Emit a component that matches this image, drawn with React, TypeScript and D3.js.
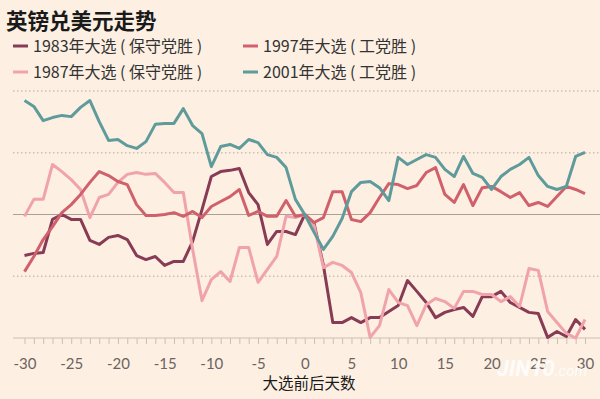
import React, { useEffect, useRef } from 'react';
import * as d3 from 'd3';

// 大选前后天数（-30 ~ 30）
const days = d3.range(-30, 31);
const xLabelTicks = [-30, -25, -20, -15, -10, -5, 0, 5, 10, 15, 20, 25, 30];
const gridValues = [4, 2, -2];

// 以选举日为 0 的英镑兑美元变化（%）
const gbp1983 = [
  -1.33, -1.26, -1.23, -0.16, 0, -0.16, -0.16, -0.84, -0.97, -0.74,
  -0.68, -0.81, -1.33, -1.46, -1.36, -1.65, -1.52, -1.52, -0.87, 0.16,
  1.23, 1.39, 1.43, 1.49, 0.71, 0.32, -0.97, -0.55, -0.55, -0.65,
  0, -0.29, -1.65, -3.5, -3.5, -3.34, -3.5, -3.34, -3.34, -3.14,
  -2.95, -2.14, -2.49, -2.85, -3.34, -3.17, -3.08, -3.01, -3.3, -2.66,
  -2.66, -2.49, -2.85, -3.01, -3.17, -3.21, -3.98, -3.79, -3.95, -3.4,
  -3.72,
];
const gbp1987 = [
  -0.06, 0.49, 0.49, 1.62, 1.39, 1.13, 0.81, -0.1, 0.55, 0.65,
  1.04, 1.3, 1.36, 1.3, 1.33, 1.04, 0.71, 0.71, -1.13, -2.79,
  -2.11, -1.85, -2.17, -1.07, -1.07, -2.2, -1.78, -1.36, -0.06, -0.1,
  0, -0.36, -1.72, -1.55, -1.65, -1.88, -2.53, -3.98, -3.6, -2.43,
  -2.85, -2.95, -3.6, -2.92, -2.72, -2.82, -3.04, -2.49, -2.49, -2.59,
  -2.59, -2.82, -2.66, -2.98, -1.75, -1.81, -3.14, -3.5, -3.85, -4.0,
  -3.4,
];
const gbp1997 = [
  -1.85, -1.36, -0.81, -0.39, 0.06, 0.32, 0.65, 1.04, 1.39, 1.26,
  1.07, 0.97, 0.32, -0.03, -0.03, 0, 0.06, -0.06, 0.1, -0.1,
  0.26, 0.42, 0.58, 0.81, -0.03, 0.1, -0.06, -0.06, 0.45, -0.06,
  0, -0.26, -0.1, 0.74, 0.74, -0.16, -0.23, 0.06, 0.55, 1.0,
  0.97, 0.84, 0.94, 1.36, 1.52, 0.65, 0.39, 0.97, 0.29, 0.87,
  0.91, 0.74, 0.55, 0.71, 0.29, 0.39, 0.26, 0.58, 0.91, 0.81,
  0.68,
];
const gbp2001 = [
  3.69, 3.5, 3.04, 3.14, 3.21, 3.17, 3.47, 3.69, 3.01, 2.4,
  2.43, 2.23, 2.14, 2.36, 2.92, 2.95, 2.95, 3.43, 2.88, 2.62,
  1.55, 2.2, 2.27, 2.14, 2.43, 2.33, 1.94, 1.85, 1.52, 0.49,
  0, -0.58, -1.13, -0.71, -0.13, 0.74, 1.04, 1.07, 0.87, 0.45,
  1.85, 1.62, 1.78, 1.94, 1.85, 1.46, 1.23, 1.88, 1.33, 1.2,
  0.81, 1.23, 1.46, 1.62, 1.85, 1.26, 0.91, 0.81, 0.91, 1.88,
  2.01,
];

const seriesLabels = [
  '1983年大选 ( 保守党胜 )',
  '1987年大选 ( 保守党胜 )',
  '1997年大选 ( 工党胜 )',
  '2001年大选 ( 工党胜 )',
];
const seriesValues = [gbp1983, gbp1987, gbp1997, gbp2001];
const seriesColors = ['#873b55', '#f0a3ab', '#d0606b', '#5f9b9b'];

const W = 600;
const H = 399;
const CJK = '"Noto Sans CJK SC", "Noto Sans", sans-serif';

const App = () => {
  const svgRef = useRef<SVGSVGElement>(null);

  useEffect(() => {
    const svg = d3.select(svgRef.current);
    svg.selectAll('*').remove();

    const x = d3.scaleLinear().domain([-30, 30]).range([24.5, 585]);
    const y = d3.scaleLinear().domain([-4, 4]).range([338, 91]);

    svg.append('rect').attr('width', W).attr('height', H).attr('fill', '#fdf0e3');

    // 标题
    svg.append('text')
      .attr('x', 6).attr('y', 28.5)
      .attr('font-family', CJK).attr('font-size', 21.5).attr('font-weight', 700)
      .attr('fill', '#1a1a1a')
      .text('英镑兑美元走势');

    // 图例
    const legendPos = [
      { x: 13, y: 46 }, { x: 13, y: 72 }, { x: 243, y: 46 }, { x: 243, y: 72 },
    ];
    const legend = svg.append('g');
    seriesLabels.forEach((label, i) => {
      const p = legendPos[i];
      legend.append('line')
        .attr('x1', p.x).attr('x2', p.x + 15).attr('y1', p.y).attr('y2', p.y)
        .attr('stroke', seriesColors[i]).attr('stroke-width', 3);
      legend.append('text')
        .attr('x', p.x + 20).attr('y', p.y).attr('dy', '0.35em')
        .attr('font-family', CJK).attr('font-size', 16).attr('fill', '#333')
        .attr('xml:space', 'preserve')
        .style('white-space', 'pre')
        .text(label);
    });

    // 网格线
    svg.append('g').selectAll('line')
      .data(gridValues)
      .join('line')
      .attr('x1', 13).attr('x2', W)
      .attr('y1', d => y(d)).attr('y2', d => y(d))
      .attr('stroke', '#cdbfb2').attr('stroke-width', 1.5)
      .attr('stroke-dasharray', '1.5,2.5');

    svg.append('line')
      .attr('x1', 13).attr('x2', W).attr('y1', y(0)).attr('y2', y(0))
      .attr('stroke', '#aaa097').attr('stroke-width', 1);

    // x 轴
    const xAxis = d3.axisBottom(x)
      .tickValues(days)
      .tickSize(6)
      .tickSizeOuter(0)
      .tickPadding(14)
      .tickFormat(d => (xLabelTicks.includes(+d) ? String(d) : ''));

    const gx = svg.append('g').attr('transform', `translate(0,${y(-4)})`).call(xAxis);
    gx.select('.domain').remove();
    gx.selectAll('.tick line').attr('stroke', '#cbbfb4');
    gx.selectAll('.tick text')
      .attr('font-family', 'Lato, "Open Sans", sans-serif')
      .attr('font-size', 15).attr('fill', '#6b6460');
    gx.append('line')
      .attr('x1', 13).attr('x2', W).attr('y1', 0).attr('y2', 0)
      .attr('stroke', '#cbbfb4').attr('stroke-width', 1);

    svg.append('text')
      .attr('x', 309).attr('y', 384).attr('dy', '0.35em')
      .attr('text-anchor', 'middle')
      .attr('font-family', CJK).attr('font-size', 15.5).attr('fill', '#1a1a1a')
      .text('大选前后天数');

    // 折线
    const myLine = d3.line<number>()
      .x((v, i) => x(days[i]))
      .y(v => y(v));

    svg.append('g').selectAll('path')
      .data(seriesValues)
      .join('path')
      .attr('d', d => myLine(d))
      .attr('fill', 'none')
      .attr('stroke', (d, i) => seriesColors[i])
      .attr('stroke-width', 3)
      .attr('stroke-linejoin', 'round');

    // 水印
    svg.append('text')
      .attr('x', 497).attr('y', 376)
      .attr('font-family', 'Roboto, sans-serif').attr('font-size', 22)
      .attr('font-weight', 700).attr('font-style', 'italic')
      .attr('fill', '#ffffff').attr('opacity', 0.85)
      .text('JIN10')
      .append('tspan').attr('font-size', 15).attr('font-weight', 400).text('.com');
  }, []);

  return (
    <svg
      ref={svgRef}
      width={W}
      height={H}
      style={{ position: 'absolute', left: 0, top: 0, display: 'block' }}
    />
  );
};

export default App;
